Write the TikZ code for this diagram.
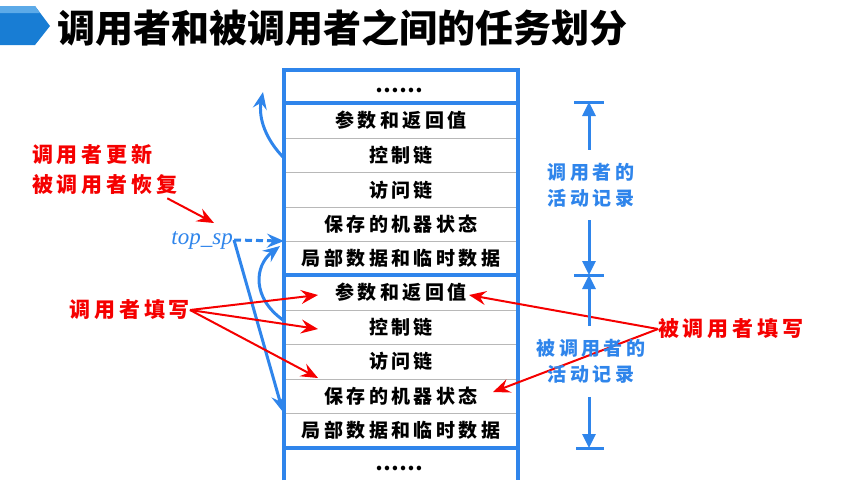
\documentclass[tikz,border=0pt]{standalone}
\usepackage{fontspec}
\setmainfont{Liberation Serif}
\newfontfamily\cjk{Noto Sans CJK SC}
\newfontfamily\cjkwide{Noto Sans CJK SC}[LetterSpace=18]
\usetikzlibrary{arrows.meta}
\definecolor{stackblue}{RGB}{47,133,235}
\definecolor{bannerblue}{RGB}{24,125,212}
\definecolor{bannerlight}{RGB}{92,170,232}
\definecolor{notered}{RGB}{245,0,0}

\begin{document}
\begin{tikzpicture}[line cap=butt,line join=miter,>={Stealth[length=17pt,width=14pt,inset=6pt]},x=1pt,y=-1pt,
  cell/.style={font=\cjkwide\bfseries\fontsize{19}{19}\selectfont,inner sep=0pt},
  dots/.style={font=\cjk\bfseries\fontsize{21}{21}\selectfont,inner sep=0pt},
  frame/.style={draw=stackblue,line width=4pt},
  thin/.style={draw=black!28,line width=0.9pt},
  rednote/.style={font=\cjkwide\bfseries\fontsize{21}{30}\selectfont,text=notered,inner sep=0pt,align=left},
  bluenote/.style={font=\cjkwide\bfseries\fontsize{19}{26}\selectfont,text=stackblue,inner ysep=13pt,inner xsep=0pt,align=center},
  redarrow/.style={->,draw=notered,line width=2pt},
  bluearrow/.style={->,draw=stackblue,line width=3pt},
  dimarrow/.style={-{Triangle[length=14pt,width=13pt]},draw=stackblue,line width=3pt},
  dimbar/.style={draw=stackblue,line width=3pt}]
\useasboundingbox (0,0) rectangle (864,496);
% banner
\fill[bannerblue] (0,6)--(35,6)--(50,26)--(35,45)--(0,45)--cycle;
\fill[bannerlight] (0,6)--(35,6)--(40,13)--(0,13)--cycle;
\node[anchor=west,inner sep=0pt,font=\cjk\bfseries\fontsize{38}{38}\selectfont] (title) at (57,28) {调用者和被调用者之间的任务划分};
% stack
\draw[thin] (284,138)--(518,138);
\draw[thin] (284,172.5)--(518,172.5);
\draw[thin] (284,207)--(518,207);
\draw[thin] (284,241)--(518,241);
\draw[thin] (284,310)--(518,310);
\draw[thin] (284,344)--(518,344);
\draw[thin] (284,379)--(518,379);
\draw[thin] (284,413)--(518,413);
\draw[frame] (284,103)--(518,103);
\draw[frame] (284,275)--(518,275);
\draw[frame] (284,448)--(518,448);
\draw[frame] (284,480)--(284,70)--(518,70)--(518,480);
\node[dots] (dtop) at (399,90) {……};
\node[cell] (r1) at (401,120.5) {参数和返回值};
\node[cell] (r2) at (401,155.5) {控制链};
\node[cell] (r3) at (401,190) {访问链};
\node[cell] (r4) at (401,224) {保存的机器状态};
\node[cell] (r5) at (401,258) {局部数据和临时数据};
\node[cell] (r6) at (401,292.5) {参数和返回值};
\node[cell] (r7) at (401,327) {控制链};
\node[cell] (r8) at (401,361.5) {访问链};
\node[cell] (r9) at (401,396) {保存的机器状态};
\node[cell] (r10) at (401,430.5) {局部数据和临时数据};
\node[dots] (dbot) at (399,468) {……};
% top_sp
\node[anchor=east,inner sep=1pt,text=stackblue,font=\itshape\fontsize{23}{23}\selectfont] (topsp) at (234,240) {top\_sp};
\coordinate (oldsp) at (284,241);
\coordinate (newsp) at (283,412);
\draw[bluearrow,dash pattern=on 7pt off 4pt] (topsp.east) -- (oldsp);
\draw[bluearrow] (topsp.east) -- (newsp);
\coordinate (ret1) at (284,158);
\coordinate (ret1tip) at (263,92);
\coordinate (ret2) at (283,320);
\coordinate (ret2tip) at (280,246);
\draw[bluearrow] (ret1) .. controls (266,140) and (258,118) .. (ret1tip);
\draw[bluearrow] (ret2) .. controls (252,298) and (254,266) .. (ret2tip);
% red notes
\node[rednote,anchor=west] (update) at (32,170) {调用者更新\\被调用者恢复};
\coordinate (updtip) at (214,223);
\draw[redarrow] ([xshift=-10pt,yshift=-3pt]update.south east) -- (updtip);
\node[rednote,anchor=east] (callerfill) at (190,310) {调用者填写};
\coordinate (cf1) at (318,295);
\coordinate (cf2) at (318,329);
\coordinate (cf3) at (318,378);
\draw[redarrow] (callerfill.east) -- (cf1);
\draw[redarrow] (callerfill.east) -- (cf2);
\draw[redarrow] (callerfill.east) -- (cf3);
\node[rednote,anchor=west] (calleefill) at (658,329) {被调用者填写};
\coordinate (ef1) at (469,295);
\coordinate (ef2) at (493,392);
\draw[redarrow] (calleefill.west) -- (ef1);
\draw[redarrow] (calleefill.west) -- (ef2);
% record extents
\coordinate (ctop) at (589,102);
\coordinate (cmid) at (589,275);
\coordinate (cbot) at (589,448);
\draw[dimbar] ([xshift=-15pt]ctop) -- ([xshift=15pt]ctop);
\draw[dimbar] ([xshift=-15pt]cmid) -- ([xshift=15pt]cmid);
\draw[dimbar] ([xshift=-13pt]cbot) -- ([xshift=15pt]cbot);
\node[bluenote] (callerrec) at (591,185) {调用者的\\活动记录};
\node[bluenote] (calleerec) at (591,361.5) {被调用者的\\活动记录};
\draw[dimarrow] (callerrec.north -| ctop) -- (ctop);
\draw[dimarrow] (callerrec.south -| ctop) -- (cmid);
\draw[dimarrow] (calleerec.north -| cmid) -- (cmid);
\draw[dimarrow] (calleerec.south -| cbot) -- (cbot);
\end{tikzpicture}
\end{document}
